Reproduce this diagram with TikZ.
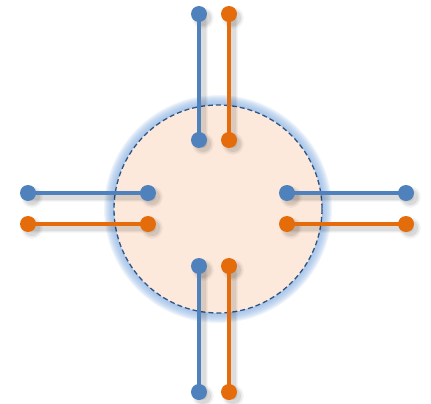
\documentclass[tikz,border=0pt]{standalone}
\definecolor{myblue}{HTML}{4F81BD}
\definecolor{myorange}{HTML}{E46C0A}
\definecolor{myfill}{HTML}{FCE9DB}
\definecolor{mydash}{HTML}{2F5584}
\definecolor{myglow}{HTML}{8DB3E2}
\begin{document}
\begin{tikzpicture}[x=1pt,y=-1pt,
  pt/.style={circle,inner sep=0pt,minimum size=16pt},
  wire/.style={line width=3.6pt},
  shd/.style={black,line cap=round}]
\useasboundingbox (0,0) rectangle (431,404);
% glow
\foreach \k in {10,9,...,1}
  \fill[myglow,opacity=0.13] (218,209) circle ({104+\k});
\fill[myfill] (218,209) circle (104);
\draw[mydash,line width=1.3pt,dash pattern=on 5pt off 3pt] (218,209) circle (104);
% nodes
\foreach \n/\x/\y in {tb1/199/14,tb2/199/140,to1/229/14,to2/229/140,
  lb1/28/193,lb2/148/193,lo1/28/224,lo2/148/224,
  rb1/287/193,rb2/406/193,ro1/287/224,ro2/406/224,
  bb1/199/266,bb2/199/392,bo1/229/266,bo2/229/392}
  \node[pt] (\n) at (\x,\y) {};
% shadows
\foreach \a/\b in {tb1/tb2,to1/to2,lb1/lb2,lo1/lo2,rb1/rb2,ro1/ro2,bb1/bb2,bo1/bo2}{
  \foreach \w/\o in {9/0.035,7/0.045,5/0.06}
    \draw[shd,line width=\w pt,opacity=\o] ([shift={(4,4)}]\a.center) -- ([shift={(4,4)}]\b.center);
  \foreach \r/\o in {11/0.035,9.5/0.05,8/0.07}{
    \fill[black,opacity=\o] ([shift={(4,4)}]\a.center) circle (\r);
    \fill[black,opacity=\o] ([shift={(4,4)}]\b.center) circle (\r);}
}
% wires
\foreach \a/\b/\c in {tb1/tb2/myblue,to1/to2/myorange,lb1/lb2/myblue,lo1/lo2/myorange,
  rb1/rb2/myblue,ro1/ro2/myorange,bb1/bb2/myblue,bo1/bo2/myorange}{
  \draw[wire,\c] (\a.center) -- (\b.center);
  \fill[\c] (\a) circle (8);
  \fill[\c] (\b) circle (8);
}
\end{tikzpicture}
\end{document}
